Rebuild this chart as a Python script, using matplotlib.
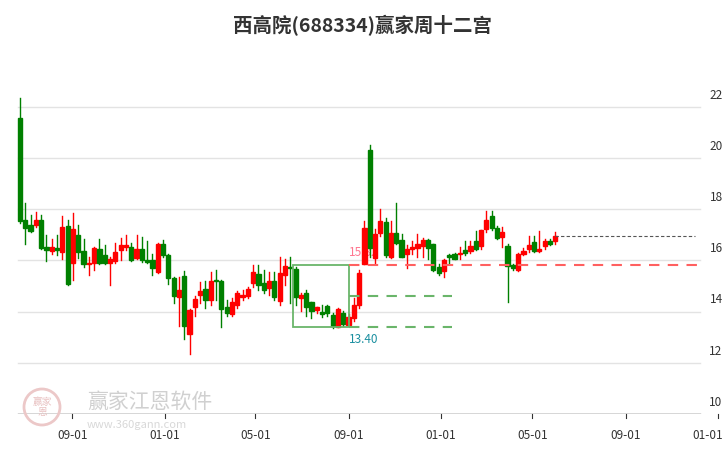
import numpy as np
import pandas as pd
import matplotlib.pyplot as plt
import matplotlib.dates as mdates
from matplotlib.patches import Rectangle, Ellipse

plt.rcParams['font.family'] = ['Noto Sans CJK SC', 'DejaVu Sans']

# weekly candles (open, high, low, close)
opens = [21.3, 17.35, 17.16, 17.13, 17.32, 16.27, 16.14, 16.24, 16.1, 17.1,
         15.66, 16.74, 16.11, 15.6, 15.66, 16.2, 15.98, 15.66, 15.72, 16.17,
         16.27, 16.27, 15.85, 16.22, 15.76, 15.76, 15.3, 16.41, 15.98, 15.07,
         14.32, 15.13, 12.9, 13.93, 14.39, 14.65, 14.22, 15.0, 14.97, 13.95,
         13.67, 14.0, 14.34, 14.38, 14.88, 15.22, 14.88, 14.68, 14.94, 14.16,
         15.18, 15.5, 15.44, 14.3, 14.5, 14.13, 13.82, 13.73, 13.99, 13.64,
         13.17, 13.69, 13.25, 13.5, 14.03, 15.6, 20.07, 15.86, 16.84, 17.26,
         15.88, 16.83, 16.55, 16.0, 16.19, 16.25, 16.32, 16.55, 16.38, 15.5,
         15.33, 15.95, 15.99, 16.0, 16.17, 16.12, 16.51, 16.32, 16.97, 17.5,
         17.01, 16.68, 16.32, 15.57, 15.4, 16.02, 16.21, 16.47, 16.12, 16.32,
         16.51, 16.53]
highs = [22.1, 18.0, 17.55, 17.65, 17.55, 16.74, 16.6, 16.74, 17.5, 17.32,
         17.6, 17.13, 16.58, 15.9, 16.3, 16.58, 16.35, 15.9, 16.42, 16.62,
         16.74, 16.42, 16.74, 16.66, 16.5, 16.0, 16.45, 16.54, 16.0, 15.1,
         15.1, 15.33, 13.85, 14.35, 14.9, 14.96, 15.3, 15.4, 15.0, 14.2,
         14.3, 14.58, 14.6, 14.7, 15.57, 15.57, 15.4, 15.3, 15.3, 15.9,
         15.8, 15.9, 15.5, 14.5, 14.6, 14.15, 13.95, 14.0, 14.0, 13.7,
         13.9, 13.8, 13.65, 14.3, 15.4, 17.3, 20.25, 17.0, 17.75, 17.4,
         17.3, 18.0, 16.8, 16.35, 16.5, 16.8, 16.65, 16.6, 16.4, 15.6,
         15.8, 16.0, 16.05, 16.3, 16.5, 16.5, 16.9, 16.95, 17.7, 17.7,
         17.1, 17.05, 16.4, 15.6, 16.05, 16.25, 16.7, 16.7, 16.9, 16.6,
         16.6, 16.85]
lows = [17.2, 16.4, 16.85, 17.05, 16.2, 15.75, 16.0, 15.98, 15.8, 14.8,
        15.0, 15.85, 15.5, 15.17, 15.4, 15.6, 15.6, 14.8, 15.66, 15.77,
        16.17, 15.72, 15.8, 15.7, 15.64, 15.17, 15.25, 15.9, 14.83, 14.1,
        13.2, 12.7, 12.1, 13.6, 14.1, 13.9, 14.0, 14.2, 13.15, 13.6,
        13.6, 13.9, 14.2, 14.3, 14.7, 14.6, 14.5, 14.4, 14.2, 14.0,
        14.8, 14.1, 14.0, 13.8, 13.6, 13.5, 13.7, 13.55, 13.6, 13.1,
        13.15, 13.2, 13.2, 13.4, 13.9, 15.6, 15.9, 15.65, 16.7, 15.9,
        15.85, 16.4, 15.9, 15.45, 16.0, 15.9, 15.9, 15.8, 15.35, 15.2,
        15.12, 15.6, 15.8, 15.8, 15.95, 16.05, 16.15, 16.2, 16.85, 16.95,
        16.6, 16.3, 14.15, 15.4, 15.35, 15.95, 16.1, 16.1, 16.1, 16.2,
        16.35, 16.4]
closes = [17.3, 17.03, 16.92, 17.32, 16.24, 16.18, 16.27, 16.17, 17.05, 14.83,
          16.97, 16.1, 15.6, 15.66, 16.24, 15.66, 15.66, 15.83, 16.08, 16.35,
          16.35, 15.76, 16.22, 15.76, 15.7, 15.46, 16.41, 15.98, 15.07, 14.37,
          14.6, 13.2, 13.83, 14.26, 14.55, 14.21, 14.94, 14.94, 13.87, 13.7,
          14.12, 14.48, 14.4, 14.65, 15.3, 14.81, 14.6, 14.97, 14.33, 15.26,
          15.53, 15.45, 14.33, 14.42, 13.95, 13.8, 13.92, 13.68, 13.69, 13.18,
          13.85, 13.27, 13.53, 14.03, 15.27, 17.03, 16.25, 16.77, 17.3, 15.95,
          16.83, 16.45, 15.9, 16.21, 16.29, 16.38, 16.55, 16.25, 15.4, 15.27,
          15.77, 15.9, 15.83, 16.04, 16.05, 16.34, 16.21, 16.94, 17.34, 17.01,
          16.64, 16.86, 15.53, 15.47, 16.02, 16.12, 16.35, 16.12, 16.21, 16.51,
          16.38, 16.7]

# readings above were taken against a grid ~0.24 low
calib = 0.24
opens = np.array(opens) + calib
highs = np.array(highs) + calib
lows = np.array(lows) + calib
closes = np.array(closes) + calib

dates = pd.date_range('2022-06-24', periods=len(opens), freq='7D')
box_top, box_low = 15.82, 13.40
mid_level = 14.62
box_from, box_to = 52, 62
x_labels = ['2022-09-01', '2023-01-01', '2023-05-01', '2023-09-01',
            '2024-01-01', '2024-05-01', '2024-09-01', '2025-01-01']

px_per_day = 0.757
left = mdates.date2num(dates[0]) - 20 / px_per_day
right = left + 726 / px_per_day

fig = plt.figure(figsize=(7.26, 4.5), dpi=100)
ax = fig.add_axes([0, 0.08, 1, 0.787])
ax.set_xlim(left, right)
ax.set_ylim(10, 23.83)
for s in ax.spines.values():
    s.set_visible(False)
ax.set_yticks([])
ax.set_xticks([])

x_grid0 = left + 18 / px_per_day
x_grid1 = left + 700 / px_per_day
for lv in [12, 14, 16, 18, 20, 22]:
    ax.plot([x_grid0, x_grid1], [lv, lv], color='#e3e3e3', lw=1, zorder=0)
    ax.text(left + 716 / px_per_day, lv + 0.2, str(lv), ha='center', va='bottom', fontsize=8.5, color='#333333')
ax.plot([x_grid0, x_grid1], [10, 10], color='#333333', lw=1, zorder=0)
ax.text(left + 716 / px_per_day, 10.2, '10', ha='center', va='bottom', fontsize=8.5, color='#333333')

# x labels
for d in x_labels:
    xd = mdates.date2num(pd.Timestamp(d))
    ax.plot([xd, xd], [10, 9.85], color='#333333', lw=0.8, clip_on=False)
    xt = min(xd, left + 708 / px_per_day)
    ax.text(xt, 9.15, pd.Timestamp(d).strftime('%m-%d'), ha='center', va='center', fontsize=8.5, color='#333333', clip_on=False)

# candles
xs = mdates.date2num(dates)
w = 4.2 / px_per_day
for x, o, h, l, c in zip(xs, opens, highs, lows, closes):
    col = '#ff0000' if c >= o else '#008000'
    ax.plot([x, x], [l, h], color=col, lw=1, zorder=2)
    ax.add_patch(Rectangle((x - w / 2, min(o, c)), w, max(abs(c - o), 0.04), color=col, zorder=3))

# box and levels
bx0 = xs[box_from] - 3.5
bx1 = xs[box_to]
ax.add_patch(Rectangle((bx0, box_low), bx1 - bx0, box_top - box_low, fill=False, edgecolor='#6ab56a', lw=1.3, zorder=4))
x_end_green = left + 452 / px_per_day
ax.plot([bx1, x_end_green], [mid_level, mid_level], color='#6ab56a', lw=1.5, ls=(0, (5, 4)), zorder=4)
ax.plot([bx1, x_end_green], [box_low, box_low], color='#6ab56a', lw=1.5, ls=(0, (5, 4)), zorder=4)
ax.plot([bx1, x_grid1], [box_top, box_top], color='#ff6060', lw=1.5, ls=(0, (5, 4)), zorder=4)
ax.plot([xs[-1], left + 695 / px_per_day], [closes[-1], closes[-1]], color='#555555', lw=0.8, ls=(0, (3, 2)), zorder=4)
ax.text(bx1, box_top + 0.25, f'{box_top:.2f}', color='#ff7790', fontsize=8.5, va='bottom', ha='left', zorder=1)
ax.text(bx1 + 1, box_low - 0.25, f'{box_low:.2f}', color='#1a8fa0', fontsize=8.5, va='top', ha='left', zorder=5)

# watermark
fig.patches.append(Ellipse((42 / 726, 1 - 407 / 450), 36 / 726, 36 / 450, transform=fig.transFigure,
                           fill=False, edgecolor='#ecc8c8', lw=2))
fig.text(42 / 726, 1 - 407 / 450, '赢家\n恩', fontsize=7, color='#e8c0c0', ha='center', va='center', linespacing=0.9)
fig.text(0.12, 0.107, '赢家江恩软件', fontsize=15, color='#d0d0d0', ha='left', va='center')
fig.text(0.12, 0.056, 'www.360gann.com', fontsize=8, color='#d8d8d8', ha='left', va='center')

fig.text(0.5, 0.944, '西高院(688334)赢家周十二宫', ha='center', va='center', fontsize=14, fontweight='bold', color='#333333')

fig.savefig('out.png', dpi=100)
